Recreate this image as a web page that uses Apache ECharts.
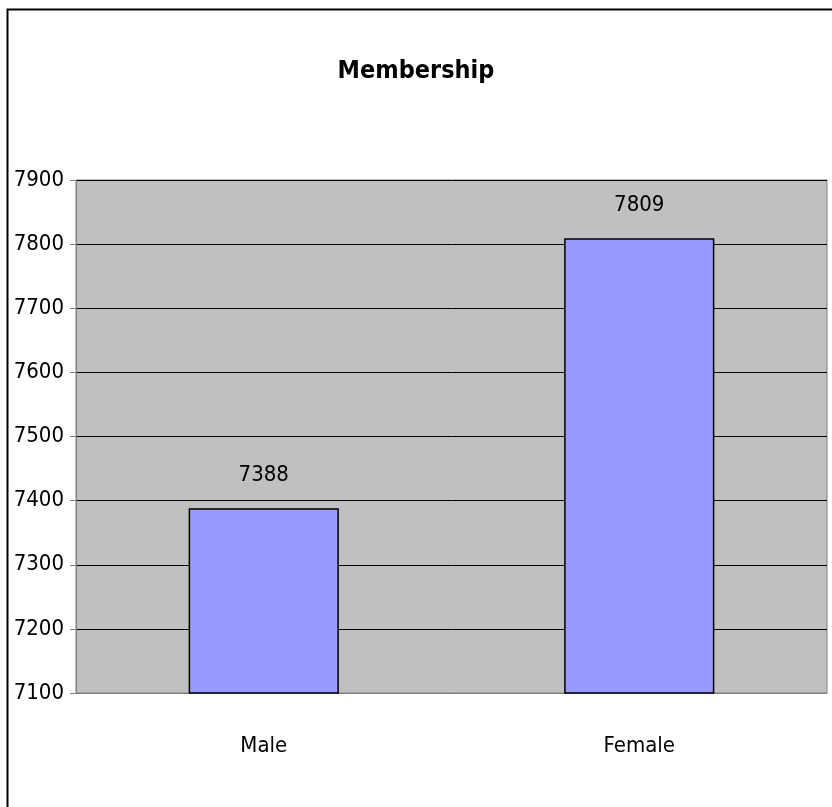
<!DOCTYPE html>
<html>
<head>
<meta charset="utf-8">
<script src="https://cdn.jsdelivr.net/npm/echarts@6/dist/echarts.min.js"></script>
<style>
    html, body { margin: 0; padding: 0; background: #fff; }
    #main { width: 832px; height: 807px; }
</style>
</head>
<body>
<div id="main"></div>
<script>
// 数据
var categories = ["Male", "Female"];
var members = [7388, 7809];
var yTicks = [7100, 7200, 7300, 7400, 7500, 7600, 7700, 7800, 7900];

(function () {
    var font = "'Liberation Sans Narrow', 'Arial Narrow', 'DejaVu Sans Condensed', 'Liberation Sans', Arial, sans-serif";
    var myChart = echarts.init(document.getElementById("main"));
    var option = {
        animation: false,
        backgroundColor: "#fff",
        title: {
            text: "Membership",
            left: "center",
            top: 54,
            textStyle: {
                fontFamily: font,
                fontSize: 25,
                fontWeight: "bold",
                color: "#000"
            }
        },
        // 外边框
        graphic: [{
            type: "rect",
            left: 5,
            top: 7,
            shape: { width: 900, height: 900 },
            style: { fill: "none", stroke: "#000", lineWidth: 2 },
            silent: true
        }],
        grid: {
            left: 76,
            right: 5,
            top: 180,
            bottom: 114,
            show: true,
            backgroundColor: "#c0c0c0",
            borderColor: "#808080",
            borderWidth: 1
        },
        xAxis: {
            type: "category",
            data: categories,
            axisLine: { lineStyle: { color: "#808080", width: 1 } },
            axisTick: { length: 10, lineStyle: { color: "#808080" } },
            axisLabel: {
                margin: 42,
                fontFamily: font,
                fontSize: 22,
                color: "#000"
            }
        },
        yAxis: {
            type: "value",
            min: yTicks[0],
            max: yTicks[yTicks.length - 1],
            interval: 100,
            axisLine: { show: true, lineStyle: { color: "#808080", width: 1 } },
            axisTick: { show: true, length: 6, lineStyle: { color: "#808080" } },
            axisLabel: {
                margin: 12,
                fontFamily: font,
                fontSize: 22,
                color: "#000",
                formatter: function (v) { return String(v); }
            },
            splitLine: { lineStyle: { color: "#000", width: 1 } }
        },
        series: [{
            name: "Membership",
            type: "bar",
            data: members,
            barWidth: "40%",
            itemStyle: {
                color: "#9999ff",
                borderColor: "#000",
                borderWidth: 1.5
            },
            label: {
                show: true,
                position: "top",
                distance: 22,
                fontFamily: font,
                fontSize: 22,
                color: "#000"
            }
        }]
    };
    myChart.setOption(option);
    window.addEventListener('resize', function () {
        myChart.resize();
    })
})();
</script>
</body>
</html>
